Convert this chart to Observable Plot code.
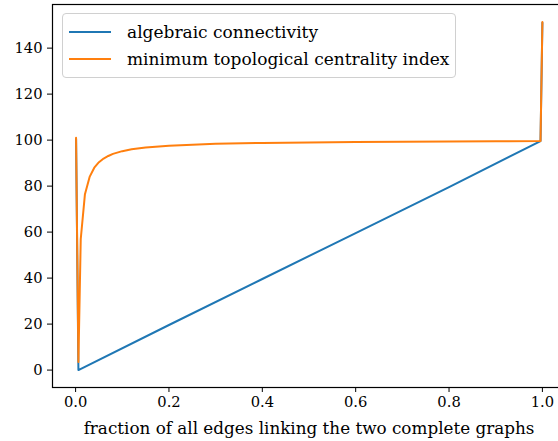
<!DOCTYPE html>
<html>
<head>
<meta charset="utf-8">
<script src="https://cdn.jsdelivr.net/npm/d3@7"></script>
<script src="https://cdn.jsdelivr.net/npm/@observablehq/plot@0.6"></script>
<style>
  html, body { margin: 0; padding: 0; background: #fff; overflow: hidden; }
  #wrap { position: relative; width: 558px; height: 441px; }
  #wrap svg, #wrap svg text { font-family: "DejaVu Serif", serif !important; }
  #wrap svg g[aria-label="x-axis tick label"], #wrap svg g[aria-label="y-axis tick label"] { font-size: 14.7px; }
  #wrap svg g[aria-label="x-axis label"] { font-size: 16.8px; }
  #legend {
    position: absolute; left: 62px; top: 13px; width: 392px; height: 63px;
    border: 1px solid #d0d0d0; border-radius: 4px; background: rgba(255,255,255,0.8);
    font-family: "DejaVu Serif", serif; font-size: 17px; color: #000;
  }
  .row { position: absolute; left: 0; height: 20px; display: flex; align-items: center; white-space: nowrap; }
  .sw { width: 42px; height: 2px; margin-left: 6px; margin-right: 16px; }
</style>
</head>
<body>
<div id="wrap"></div>
<script>
const seriesNames = ["algebraic connectivity", "minimum topological centrality index"];
const seriesColors = ["#1f77b4", "#ff7f0e"];

// algebraic connectivity (read points)
const acFraction = [0.001, 0.006, 0.2, 0.4, 0.6, 0.8, 0.996, 1.0];
const acValue    = [100.5, 0.0, 19.6, 39.6, 59.6, 79.6, 99.6, 151];

// minimum topological centrality index (read points)
const tcFraction = [0.001, 0.006, 0.011, 0.02, 0.03, 0.04, 0.05, 0.06, 0.07, 0.08, 0.1, 0.12, 0.15, 0.2, 0.3, 0.4, 0.5, 0.6, 0.7, 0.8, 0.9, 0.996, 1.0];
const tcValue    = [101, 3.5, 57, 76.5, 84, 88, 90.4, 92, 93.1, 94, 95.2, 96, 96.8, 97.6, 98.4, 98.8, 99.0, 99.2, 99.3, 99.4, 99.5, 99.6, 151.4];

const xTicks = [0, 0.2, 0.4, 0.6, 0.8, 1.0];
const yTicks = [0, 20, 40, 60, 80, 100, 120, 140];

const ac = acFraction.map((f, i) => ({f, v: acValue[i]}));
const tc = tcFraction.map((f, i) => ({f, v: tcValue[i]}));

const chart = Plot.plot({
  width: 558,
  height: 441,
  marginLeft: 52,
  marginRight: -7,
  marginTop: 4,
  marginBottom: 54,
  style: {fontFamily: "'DejaVu Serif', serif", fontSize: "16px", color: "#000", background: "#fff"},
  x: {domain: [-0.0495, 1.0495]},
  y: {domain: [-7.57, 158.97]},
  marks: [
    Plot.line(ac, {x: "f", y: "v", stroke: seriesColors[0], strokeWidth: 2}),
    Plot.line(tc, {x: "f", y: "v", stroke: seriesColors[1], strokeWidth: 2}),
    Plot.axisX({ticks: xTicks, tickFormat: d3.format(".1f"), tickSize: 5, tickPadding: 4,
      label: "fraction of all edges linking the two complete graphs", labelAnchor: "center", labelArrow: "none", labelOffset: 46}),
    Plot.axisY({ticks: yTicks, tickSize: 5, tickPadding: 5, label: null}),
    Plot.frame({stroke: "#000", strokeWidth: 1.2})
  ]
});
const wrap = document.getElementById("wrap");
wrap.appendChild(chart);

const legend = document.createElement("div");
legend.id = "legend";
seriesNames.forEach((name, i) => {
  const row = document.createElement("div");
  row.className = "row";
  row.style.top = (i === 0 ? 8 : 35) + "px";
  const sw = document.createElement("div");
  sw.className = "sw";
  sw.style.background = seriesColors[i];
  const t = document.createElement("span");
  t.textContent = name;
  row.appendChild(sw); row.appendChild(t);
  legend.appendChild(row);
});
wrap.appendChild(legend);
</script>
</body>
</html>
